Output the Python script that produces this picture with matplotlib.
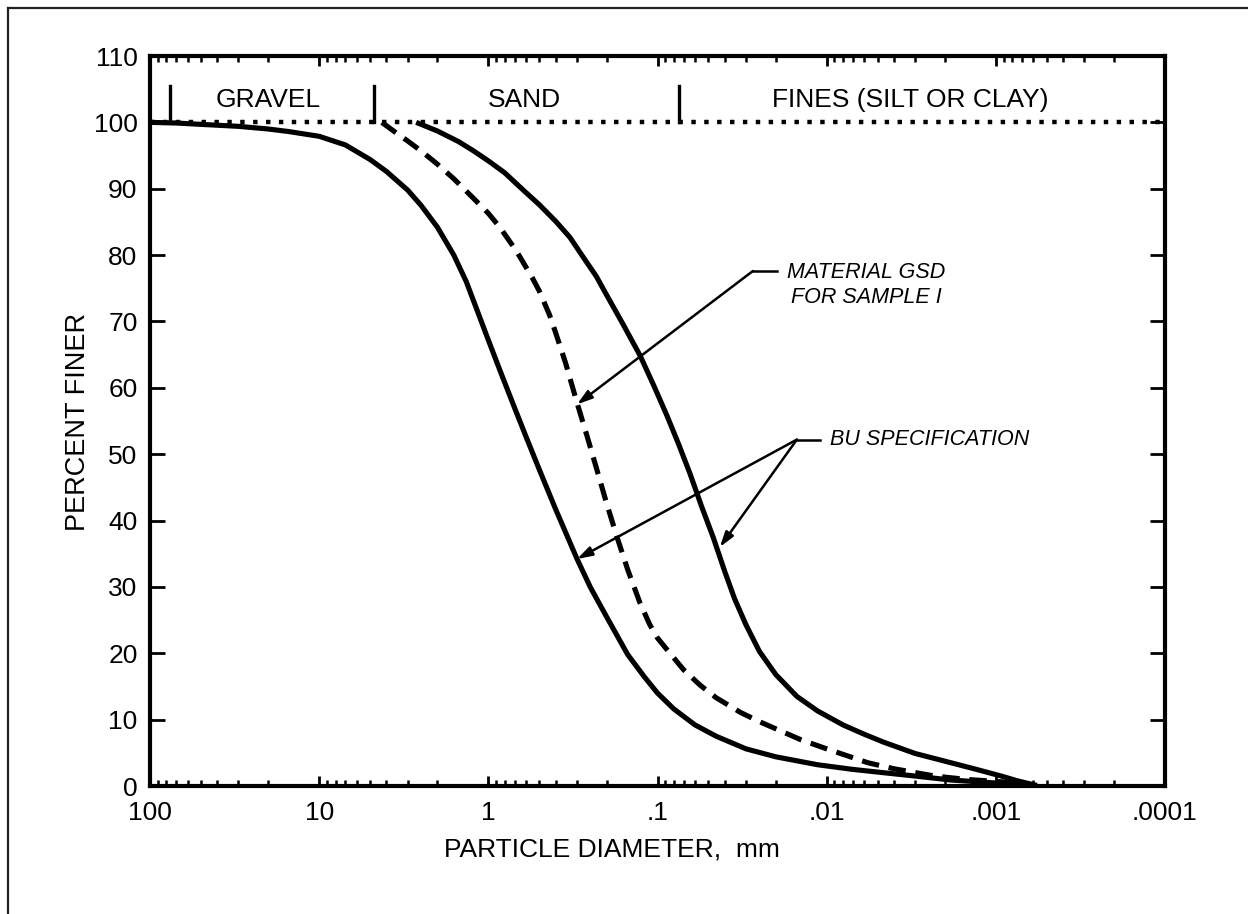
import numpy as np
import matplotlib
matplotlib.use("Agg")
import matplotlib.pyplot as plt
from matplotlib.lines import Line2D
from matplotlib.ticker import FixedLocator, LogLocator, NullFormatter

plt.rcParams['font.family'] = ['Liberation Sans', 'DejaVu Sans']

# BU specification, coarse limit (diameter mm, percent finer)
bu_coarse_d = [100, 70, 50, 30, 20, 15, 10, 7, 5, 4, 3, 2.5, 2, 1.6, 1.35,
               1.15, 1.0, 0.85, 0.7, 0.6, 0.5, 0.4, 0.3, 0.25, 0.2, 0.15,
               0.12, 0.1, 0.08, 0.06, 0.045, 0.03, 0.02, 0.0113, 0.007,
               0.0046, 0.003, 0.00184, 0.001, 0.00059]
bu_coarse_p = [100, 99.9, 99.7, 99.4, 99.0, 98.6, 97.9, 96.6, 94.4, 92.6,
               89.8, 87.5, 84.2, 80.0, 76.0, 71.3, 67.2, 62.5, 57.0, 52.7,
               47.7, 41.7, 34.3, 30.0, 25.5, 19.8, 16.5, 14.0, 11.6, 9.2,
               7.5, 5.6, 4.4, 3.2, 2.5, 2.0, 1.5, 0.9, 0.45, 0.1]

# material GSD for sample I
gsd_d = [4.26, 3.5, 3.0, 2.47, 2.0, 1.6, 1.24, 1.0, 0.85, 0.682, 0.55, 0.5,
         0.435, 0.4, 0.35, 0.301, 0.26, 0.229, 0.2, 0.174, 0.15, 0.127,
         0.111, 0.1, 0.0844, 0.07, 0.056, 0.045, 0.0324, 0.025, 0.0143,
         0.01, 0.0057, 0.004, 0.0023, 0.0015, 0.00073, 0.00057]
gsd_p = [100, 98.4, 97.2, 95.6, 93.7, 91.5, 88.7, 86.3, 84.1, 80.6, 76.6,
         74.6, 71.0, 68.3, 63.8, 58.0, 52.6, 47.8, 42.6, 37.6, 32.6, 27.6,
         24.3, 22.3, 20.0, 17.5, 15.2, 13.3, 11.1, 9.7, 7.0, 5.6, 3.5, 2.6,
         1.5, 1.0, 0.45, 0.1]

# BU specification, fine limit
bu_fine_d = [2.67, 2.0, 1.5, 1.24, 1.0, 0.8, 0.628, 0.5, 0.4, 0.33, 0.27,
             0.23, 0.2, 0.16, 0.127, 0.105, 0.0879, 0.075, 0.0641, 0.055,
             0.0469, 0.04, 0.035, 0.03, 0.025, 0.02, 0.015, 0.0113, 0.008,
             0.006, 0.0046, 0.003, 0.00184, 0.0013, 0.00093, 0.00075,
             0.00059]
bu_fine_p = [100, 98.7, 97.1, 95.8, 94.2, 92.4, 89.9, 87.6, 85.1, 82.7,
             79.4, 76.8, 74.0, 69.6, 64.9, 60.3, 55.8, 51.5, 47.0, 42.2,
             37.5, 32.3, 28.2, 24.3, 20.3, 16.8, 13.5, 11.3, 9.2, 7.8, 6.6,
             4.9, 3.5, 2.5, 1.5, 0.8, 0.15]

# soil classes along the top
class_names = ['GRAVEL', 'SAND', 'FINES (SILT OR CLAY)']
class_label_x = [20.1, 0.608, 0.00322]
class_bounds = [76.2, 4.75, 0.075]

x_ticks = [100, 10, 1, 0.1, 0.01, 0.001, 0.0001]
x_ticklabels = ['100', '10', '1', '.1', '.01', '.001', '.0001']
y_ticks = list(range(0, 111, 10))

fig = plt.figure(figsize=(12.48, 9.14), dpi=100)
ax = fig.add_axes([150 / 1248, 1 - 786 / 914, 1015 / 1248, 730 / 914])

ax.set_xscale('log')
ax.set_xlim(100, 0.0001)
ax.set_ylim(0, 110)

# 100 % reference line
ax.plot([100, 0.0001], [100, 100], color='black', lw=3.2,
        linestyle=(0, (1.0, 1.9)), zorder=2)

ax.plot(bu_coarse_d, bu_coarse_p, color='black', lw=3.7,
        solid_capstyle='butt', solid_joinstyle='round', zorder=3)
ax.plot(gsd_d, gsd_p, color='black', lw=3.7, linestyle=(0, (3.4, 1.9)),
        dash_capstyle='butt', zorder=3)
ax.plot(bu_fine_d, bu_fine_p, color='black', lw=3.7,
        solid_capstyle='butt', solid_joinstyle='round', zorder=3)

# class dividers and names
for b in class_bounds:
    ax.plot([b, b], [100, 105.5], color='black', lw=2.4)
for name, xc in zip(class_names, class_label_x):
    ax.text(xc, 103.4, name, ha='center', va='center', fontsize=19)

# annotations
ital = dict(fontsize=15.5, style='italic')
arw = dict(arrowstyle='-|>,head_length=0.9,head_width=0.28', lw=1.8,
           color='black', shrinkA=0, shrinkB=0)

ax.plot([0.0273, 0.0197], [77.6, 77.6], color='black', lw=1.8)
ax.annotate('', xy=(0.299, 57.5), xytext=(0.0273, 77.6), arrowprops=arw)
ax.text(0.0172, 75.5, 'MATERIAL GSD\nFOR SAMPLE I', ha='left', va='center',
        multialignment='center', linespacing=1.3, **ital)

ax.plot([0.015, 0.011], [52.2, 52.2], color='black', lw=1.8)
ax.annotate('', xy=(0.299, 34.2), xytext=(0.015, 52.2), arrowprops=arw)
ax.annotate('', xy=(0.0428, 36.0), xytext=(0.015, 52.2), arrowprops=arw)
ax.text(0.00958, 52.2, 'BU SPECIFICATION', ha='left', va='center', **ital)

# axes styling
for s in ax.spines.values():
    s.set_linewidth(3)
ax.xaxis.set_major_locator(FixedLocator(x_ticks))
ax.set_xticklabels(x_ticklabels)
ax.xaxis.set_minor_locator(LogLocator(base=10, subs=np.arange(2, 10)))
ax.xaxis.set_minor_formatter(NullFormatter())
ax.set_yticks(y_ticks)
ax.tick_params(axis='x', which='major', direction='in', top=True, bottom=True,
               length=7.5, width=2, labelsize=19, pad=11)
ax.tick_params(axis='x', which='minor', direction='in', top=True, bottom=True,
               length=4, width=1.8)
ax.tick_params(axis='y', which='major', direction='in', left=True, right=True,
               length=11, width=2, labelsize=19, pad=9)

fig.text(78 / 1248, 1 - 422 / 914, 'PERCENT FINER', rotation=90,
         ha='center', va='center', fontsize=19.5)
fig.text(612 / 1248, 1 - 850 / 914, 'PARTICLE DIAMETER,  mm',
         ha='center', va='center', fontsize=19)

# page frame (only left and top edges visible in the scan)
fig.add_artist(Line2D([8 / 1248, 8 / 1248], [0, 1 - 8 / 914],
                      transform=fig.transFigure, color='#222222', lw=1.6))
fig.add_artist(Line2D([8 / 1248, 1], [1 - 8 / 914, 1 - 8 / 914],
                      transform=fig.transFigure, color='#222222', lw=1.6))

fig.savefig('out.png', dpi=100)
